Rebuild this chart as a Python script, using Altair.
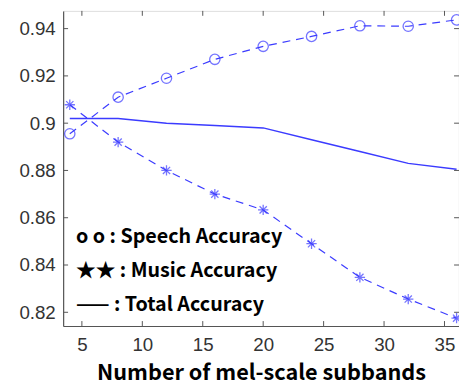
import altair as alt
import pandas as pd

subbands = [4, 8, 12, 16, 20, 24, 28, 32, 36]
speech = [0.8955, 0.911, 0.919, 0.927, 0.9325, 0.9367, 0.9412, 0.941, 0.9437]
music = [0.9078, 0.892, 0.880, 0.870, 0.8633, 0.849, 0.8348, 0.8256, 0.8175]
total = [0.902, 0.902, 0.900, 0.899, 0.898, 0.893, 0.888, 0.883, 0.8805]

legend_labels = ["o o : Speech Accuracy", "★★ : Music Accuracy", "—— : Total Accuracy"]
legend_rows = [0, 1, 2]
x_ticks = [5, 10, 15, 20, 25, 30, 35]
y_ticks = [0.82, 0.84, 0.86, 0.88, 0.90, 0.92, 0.94]

BLUE = "#3b3bff"
XDOM = [3.45, 36.2]
YDOM = [0.8142, 0.9475]

df = pd.DataFrame({"x": subbands, "speech": speech, "music": music, "total": total})

xs = alt.Scale(domain=XDOM, nice=False, zero=False)
ys = alt.Scale(domain=YDOM, nice=False, zero=False)

xaxis = alt.Axis(values=x_ticks, title="Number of mel-scale subbands", grid=False,
                 labelFont="Liberation Sans", labelFontSize=19, labelColor="#333333",
                 titleFont="Noto Sans CJK KR", titleFontWeight="bold", titleFontSize=22,
                 titleColor="black", titlePadding=8, ticks=False, labelPadding=10,
                 domainColor="#555555", domainWidth=1.2)
yaxis = alt.Axis(values=y_ticks, title=None, grid=False, format=".2~f",
                 labelFont="Liberation Sans", labelFontSize=19, labelColor="#333333",
                 ticks=False, labelPadding=8, domainColor="#555555", domainWidth=1.2)

base = alt.Chart(df)

speech_line = base.mark_line(color=BLUE, strokeDash=[8, 6], strokeWidth=1.2).encode(
    x=alt.X("x:Q", scale=xs, axis=xaxis), y=alt.Y("speech:Q", scale=ys, axis=yaxis))
speech_pts = base.mark_point(color=BLUE, shape="circle", size=110, filled=False, strokeWidth=1.3).encode(
    x=alt.X("x:Q", scale=xs), y=alt.Y("speech:Q", scale=ys))

music_line = base.mark_line(color=BLUE, strokeDash=[8, 6], strokeWidth=1.2).encode(
    x=alt.X("x:Q", scale=xs), y=alt.Y("music:Q", scale=ys))
star = "M -1 0 L 1 0 M 0 -1 L 0 1 M -0.7 -0.7 L 0.7 0.7 M -0.7 0.7 L 0.7 -0.7"
music_pts = base.mark_point(color=BLUE, shape=star, size=110, filled=False, strokeWidth=1.3).encode(
    x=alt.X("x:Q", scale=xs), y=alt.Y("music:Q", scale=ys))

total_line = base.mark_line(color=BLUE, strokeWidth=1.5).encode(
    x=alt.X("x:Q", scale=xs), y=alt.Y("total:Q", scale=ys))

# inward tick marks (bottom/top and left/right)
xt = pd.DataFrame({"t": x_ticks})
yt = pd.DataFrame({"t": y_ticks})
tick_bottom = alt.Chart(xt).mark_rule(color="#555555").encode(
    x=alt.X("t:Q", scale=xs), y=alt.value(320), y2=alt.value(315))
tick_top = alt.Chart(xt).mark_rule(color="#555555").encode(
    x=alt.X("t:Q", scale=xs), y=alt.value(0), y2=alt.value(5))
tick_left = alt.Chart(yt).mark_rule(color="#555555").encode(
    y=alt.Y("t:Q", scale=ys), x=alt.value(0), x2=alt.value(5))
tick_right = alt.Chart(yt).mark_rule(color="#555555").encode(
    y=alt.Y("t:Q", scale=ys), x=alt.value(402), x2=alt.value(397))

leg = pd.DataFrame({"label": legend_labels, "row": legend_rows})
legend = alt.Chart(leg).mark_text(align="left", baseline="middle", font="Noto Sans CJK KR",
                                  fontWeight="bold", fontSize=20, color="black").encode(
    text="label:N",
    x=alt.value(13),
    y=alt.Y("row:Q", scale=alt.Scale(domain=[0, 2], range=[230, 299]), axis=None),
)

chart = alt.layer(speech_line, music_line, total_line, speech_pts, music_pts,
                  tick_bottom, tick_top, tick_left, tick_right, legend).resolve_scale(
    y="independent").properties(
    width=402, height=320,
    autosize=alt.AutoSizeParams(type="none"),
    padding={"left": 56, "top": 0, "right": 0, "bottom": 58},
).configure_view(stroke="#555555", strokeWidth=1.2).configure(background="white")

chart.save("out.html", embed_options={"renderer": "svg", "actions": False})
